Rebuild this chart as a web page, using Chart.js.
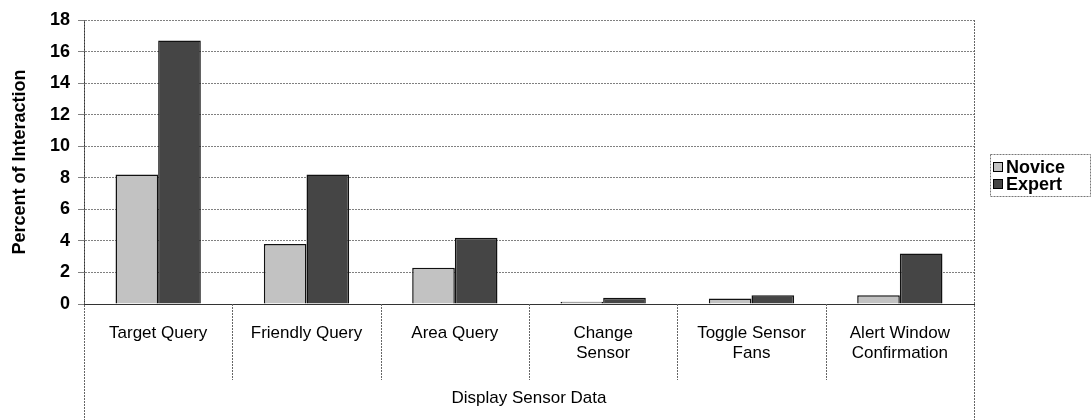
<!DOCTYPE html>
<html>
<head>
<meta charset="utf-8">
<script src="https://cdn.jsdelivr.net/npm/chart.js@4.4.1/dist/chart.umd.min.js"></script>
<style>
  html, body { margin: 0; padding: 0; background: #fff; }
</style>
</head>
<body>
<canvas id="interactionChart" width="1091" height="420"></canvas>
<script>
const categories = [
    ['Target Query'], ['Friendly Query'], ['Area Query'],
    ['Change', 'Sensor'], ['Toggle Sensor', 'Fans'], ['Alert Window', 'Confirmation']
];
const groupLabel = 'Display Sensor Data';
const noviceValues = [8.2, 3.8, 2.3, 0.15, 0.35, 0.55];
const expertValues = [16.7, 8.2, 4.2, 0.4, 0.55, 3.2];
const yTicks = [0, 2, 4, 6, 8, 10, 12, 14, 16, 18];

const FONT = '"Liberation Sans", Arial, sans-serif';

// category dividers below the axis, outer frame and legend box
const framePlugin = {
    id: 'frame',
    afterDraw(chart) {
        const ctx = chart.ctx;
        const a = chart.chartArea;
        const x = chart.scales.x;
        const half = (x.getPixelForValue(1) - x.getPixelForValue(0)) / 2;
        ctx.save();
        ctx.strokeStyle = '#666';
        ctx.lineWidth = 1;
        ctx.setLineDash([2, 1]);
        ctx.beginPath();
        for (let i = 1; i < categories.length; i++) {
            const px = Math.round(x.getPixelForValue(i) - half) + 0.5;
            ctx.moveTo(px, a.bottom);
            ctx.lineTo(px, a.bottom + 76);
        }
        ctx.moveTo(a.left + 0.5, a.top);
        ctx.lineTo(a.left + 0.5, 420);
        ctx.moveTo(a.right + 0.5, a.top);
        ctx.lineTo(a.right + 0.5, 420);
        ctx.stroke();

        // legend
        const lx = 990, ly = 154, lw = 100, lh = 42;
        ctx.strokeStyle = '#777';
        ctx.strokeRect(lx + 0.5, ly + 0.5, lw, lh);
        ctx.setLineDash([]);
        ctx.font = 'bold 18px ' + FONT;
        ctx.textBaseline = 'middle';
        chart.data.datasets.forEach((ds, i) => {
            const y = ly + 13 + i * 17;
            ctx.fillStyle = ds.backgroundColor;
            ctx.fillRect(lx + 3, y - 5, 10, 10);
            ctx.strokeStyle = '#000';
            ctx.strokeRect(lx + 3.5, y - 4.5, 9, 9);
            ctx.fillStyle = '#000';
            ctx.fillText(ds.label, lx + 16, y + 1);
        });
        ctx.restore();
    }
};

new Chart(document.getElementById('interactionChart'), {
    type: 'bar',
    data: {
        labels: categories,
        datasets: [
            { label: 'Novice', data: noviceValues, backgroundColor: '#c2c2c2', borderColor: '#111', borderWidth: 1.5 },
            { label: 'Expert', data: expertValues, backgroundColor: '#454545', borderColor: '#111', borderWidth: 1.5 }
        ]
    },
    options: {
        responsive: false,
        animation: false,
        devicePixelRatio: 1,
        layout: { padding: { left: 0, right: 117, top: 20, bottom: 0 } },
        plugins: { legend: { display: false }, tooltip: { enabled: false } },
        datasets: { bar: { categoryPercentage: 0.575, barPercentage: 1.0 } },
        scales: {
            x: {
                afterFit: axis => { axis.height = 116; },
                grid: { display: false, drawTicks: false },
                border: { color: '#333' },
                ticks: {
                    color: '#000',
                    font: { family: FONT, size: 17, lineHeight: 1.2 },
                    padding: 19,
                    maxRotation: 0,
                    autoSkip: false
                },
                title: {
                    display: true,
                    text: groupLabel,
                    color: '#000',
                    font: { family: FONT, size: 17 },
                    padding: { top: 0, bottom: 11 }
                }
            },
            y: {
                min: 0,
                max: 18,
                afterFit: axis => { axis.width = 84; },
                afterBuildTicks: axis => { axis.ticks = yTicks.map(v => ({ value: v })); },
                grid: { color: '#808080', tickLength: 6, drawTicks: true },
                border: { color: '#333', dash: [2, 1] },
                ticks: {
                    color: '#000',
                    font: { family: FONT, size: 18, weight: 'bold' },
                    padding: 8
                },
                title: {
                    display: true,
                    text: 'Percent of Interaction',
                    color: '#000',
                    font: { family: FONT, size: 18, weight: 'bold' },
                    padding: { top: 9, bottom: 0 }
                }
            }
        }
    },
    plugins: [framePlugin]
});
</script>
</body>
</html>
